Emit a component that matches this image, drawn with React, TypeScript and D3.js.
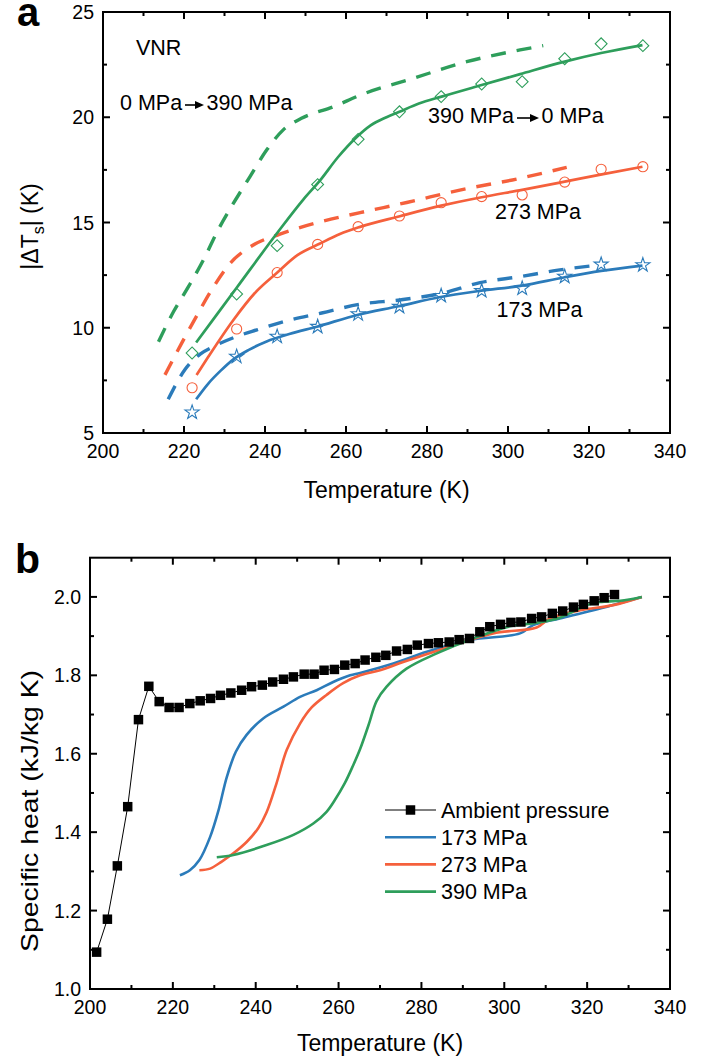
import React from 'react';
import * as d3 from 'd3';

const W = 721;
const H = 1059;
const FONT = '"Liberation Sans", Arial, Helvetica, sans-serif';

const BLUE = '#2b7bba';
const RED = '#f5603c';
const GREEN = '#2e9e5b';

// ---------------- Panel a data ----------------
const aMarkerT = [222, 233, 243, 253, 263, 273.2, 283.5, 293.5, 303.5, 314, 323, 333.3];
const aDiamonds390 = [8.8, 11.6, 13.9, 16.8, 18.95, 20.26, 20.98, 21.58, 21.69, 22.78, 23.49, 23.4];
const aCircles273 = [7.15, 9.94, 12.62, 13.96, 14.8, 15.31, 15.94, 16.23, 16.31, 16.92, 17.53, 17.65];
const aStars173 = [5.98, 8.63, 9.58, 10.05, 10.65, 11.0, 11.52, 11.75, 11.87, 12.43, 13.01, 12.98];

// fitted curves (390 MPa -> 0 MPa, solid)
const aGreenSolid: [number, number][] = [
  [223, 9.3], [233, 11.9], [243, 14.5], [249.5, 16.1], [253.6, 17.0], [258, 18.1],
  [262.6, 19.05], [266, 19.6], [270, 20.0], [273.2, 20.26], [278, 20.65], [283.6, 20.98],
  [293.5, 21.53], [303, 22.05], [314, 22.64], [323, 23.05], [333.2, 23.43],
];
const aRedSolid: [number, number][] = [
  [223.1, 7.76], [226, 8.62], [232.2, 10.37], [237.5, 11.65], [242.9, 12.6], [248, 13.45],
  [253.6, 14.0], [258.5, 14.45], [263.3, 14.78], [273.3, 15.3], [283.5, 15.8], [293.5, 16.2],
  [303.5, 16.55], [314, 16.94], [323.5, 17.3], [333.2, 17.65],
];
const aBlueSolid: [number, number][] = [
  [223, 6.6], [226, 7.35], [229, 7.95], [232.2, 8.5], [236, 8.95], [240.4, 9.35], [246, 9.7],
  [252.8, 10.05], [263, 10.62], [273, 11.02], [283, 11.45], [293, 11.75], [303.4, 12.0],
  [314, 12.4], [323, 12.7], [333.2, 12.95],
];
// dashed (0 MPa -> 390 MPa)
const aGreenDashed: [number, number][] = [
  [213.7, 9.34], [217.4, 10.76], [221.1, 11.95], [225.2, 13.37], [228, 14.49], [231.7, 15.75],
  [236.3, 17.18], [240.4, 18.44], [244.5, 19.4], [249, 19.95], [256.9, 20.5], [263.5, 21.05],
  [276.6, 21.85], [289.8, 22.64], [303, 23.2], [308.7, 23.4],
];
const aRedDashed: [number, number][] = [
  [215.3, 7.76], [219.4, 9.26], [223.5, 10.69], [226.8, 11.79], [231.4, 13.06], [237.1, 13.93],
  [243.7, 14.45], [253, 15.0], [263.5, 15.47], [275, 15.95], [288.1, 16.54], [303, 17.1], [314.5, 17.62],
];
const aBlueDashed: [number, number][] = [
  [216.1, 6.6], [220.2, 8.0], [224, 8.75], [227.2, 9.1], [232.8, 9.57], [238, 9.9], [246.2, 10.37],
  [254, 10.7], [263.5, 11.12], [273.3, 11.32], [283.5, 11.63], [293.1, 12.14], [303, 12.43],
  [312.8, 12.75], [322.7, 12.98],
];

const aXMajor = [200, 220, 240, 260, 280, 300, 320, 340];
const aXMinor = [210, 230, 250, 270, 290, 310, 330];
const aYMajor = [5, 10, 15, 20, 25];
const aYMinor = [7.5, 12.5, 17.5, 22.5];

// ---------------- Panel b data ----------------
const bAmbientT = [
  201.6, 204.2, 206.6, 209.1, 211.7, 214.2, 216.7, 219.1, 221.5, 224.1, 226.6, 229.1, 231.5,
  234.0, 236.6, 239.0, 241.6, 244.1, 246.7, 249.1, 251.7, 254.1, 256.5, 259.0, 261.5, 264.0,
  266.4, 269.0, 271.4, 274.0, 276.6, 279.0, 281.7, 284.1, 286.7, 289.1, 291.6, 294.1, 296.5,
  299.1, 301.6, 304.0, 306.6, 309.0, 311.6, 314.1, 316.7, 319.1, 321.7, 324.1, 326.6,
];
const bAmbientCp = [
  1.094, 1.178, 1.314, 1.465, 1.687, 1.772, 1.733, 1.718, 1.718, 1.728, 1.735, 1.741, 1.749,
  1.755, 1.762, 1.771, 1.775, 1.783, 1.79, 1.796, 1.803, 1.803, 1.813, 1.815, 1.826, 1.83,
  1.839, 1.846, 1.851, 1.862, 1.866, 1.877, 1.881, 1.883, 1.885, 1.891, 1.894, 1.911, 1.924,
  1.93, 1.935, 1.936, 1.945, 1.949, 1.958, 1.964, 1.974, 1.981, 1.99, 1.998, 2.006,
];
const b173: [number, number][] = [
  [221.7, 1.29], [224.1, 1.303], [226.4, 1.329], [229, 1.388], [231, 1.455], [233, 1.54],
  [235.2, 1.605], [237.8, 1.648], [241.8, 1.69], [246.7, 1.72], [250.7, 1.745], [254.7, 1.762],
  [258.7, 1.783], [262.8, 1.8], [265.2, 1.806], [273.2, 1.83], [281.3, 1.86], [291.7, 1.89],
  [303.8, 1.907], [307, 1.928], [313.4, 1.945], [321.5, 1.966], [333.2, 2.0],
];
const b273: [number, number][] = [
  [226.4, 1.303], [229, 1.307], [231.8, 1.325], [234.6, 1.346], [237.8, 1.375], [240.6, 1.41],
  [242.6, 1.45], [245, 1.524], [247.5, 1.61], [250.7, 1.677], [253.5, 1.718], [257.1, 1.75],
  [261.1, 1.78], [265.2, 1.8], [270, 1.813], [275.6, 1.834], [285.3, 1.868], [297.3, 1.907],
  [307.8, 1.922], [311, 1.945], [318.3, 1.966], [326.3, 1.979], [333.2, 2.0],
];
const b390: [number, number][] = [
  [230.6, 1.336], [234.6, 1.342], [242.6, 1.367], [249.1, 1.393], [253.9, 1.422], [257.1, 1.452],
  [259.1, 1.482], [261.5, 1.525], [263.5, 1.57], [265.2, 1.612], [267.2, 1.672], [269.2, 1.735],
  [271.6, 1.771], [276.4, 1.817], [283.7, 1.856], [292.5, 1.894], [301.4, 1.925], [307.8, 1.934],
  [313.4, 1.947], [319.9, 1.979], [323.1, 1.987], [328, 1.99], [333.2, 2.0],
];

const bXMajor = [200, 220, 240, 260, 280, 300, 320, 340];
const bXMinor = [210, 230, 250, 270, 290, 310, 330];
const bYMajor = [1.0, 1.2, 1.4, 1.6, 1.8, 2.0];
const bYMinor = [1.1, 1.3, 1.5, 1.7, 1.9];

const bLegend = ['Ambient pressure', '173 MPa', '273 MPa', '390 MPa'];
const bLegendColors = ['#000', BLUE, RED, GREEN];

// ---------------- helpers ----------------
type Scale = d3.ScaleLinear<number, number>;

function Frame(props: {
  x: Scale; y: Scale; xMajor: number[]; xMinor: number[]; yMajor: number[]; yMinor: number[];
  yFmt: (v: number) => string;
}) {
  const { x, y, xMajor, xMinor, yMajor, yMinor, yFmt } = props;
  const [x0, x1] = x.range();
  const [y0, y1] = y.range(); // y0 bottom, y1 top
  const MAJ = 7;
  const MIN = 4;
  const sw = 2;
  return (
    <g>
      <rect x={x0} y={y1} width={x1 - x0} height={y0 - y1} fill="none" stroke="#000" strokeWidth={sw} />
      {xMajor.map((v) => (
        <g key={'xM' + v}>
          <line x1={x(v)} x2={x(v)} y1={y0} y2={y0 - MAJ} stroke="#000" strokeWidth={sw} />
          <line x1={x(v)} x2={x(v)} y1={y1} y2={y1 + MAJ} stroke="#000" strokeWidth={sw} />
          <text x={x(v)} y={y0 + 25} textAnchor="middle" fontSize={19.5} fontFamily={FONT}>{v}</text>
        </g>
      ))}
      {xMinor.map((v) => (
        <g key={'xm' + v}>
          <line x1={x(v)} x2={x(v)} y1={y0} y2={y0 - MIN} stroke="#000" strokeWidth={sw} />
          <line x1={x(v)} x2={x(v)} y1={y1} y2={y1 + MIN} stroke="#000" strokeWidth={sw} />
        </g>
      ))}
      {yMajor.map((v) => (
        <g key={'yM' + v}>
          <line x1={x0} x2={x0 + MAJ} y1={y(v)} y2={y(v)} stroke="#000" strokeWidth={sw} />
          <line x1={x1} x2={x1 - MAJ} y1={y(v)} y2={y(v)} stroke="#000" strokeWidth={sw} />
          <text x={x0 - 9} y={y(v) + 7} textAnchor="end" fontSize={19.5} fontFamily={FONT}>{yFmt(v)}</text>
        </g>
      ))}
      {yMinor.map((v) => (
        <g key={'ym' + v}>
          <line x1={x0} x2={x0 + MIN} y1={y(v)} y2={y(v)} stroke="#000" strokeWidth={sw} />
          <line x1={x1} x2={x1 - MIN} y1={y(v)} y2={y(v)} stroke="#000" strokeWidth={sw} />
        </g>
      ))}
    </g>
  );
}

function Arrow({ x1, x2, y }: { x1: number; x2: number; y: number }) {
  const head = 9;
  return (
    <g>
      <line x1={x1} x2={x2 - head + 1} y1={y} y2={y} stroke="#000" strokeWidth={1.6} />
      <path d={`M${x2 - head},${y - 4}L${x2},${y}L${x2 - head},${y + 4}Z`} fill="#000" />
    </g>
  );
}

export default function App() {
  // Panel a scales
  const ax = d3.scaleLinear().domain([200, 340]).range([103, 670]);
  const ay = d3.scaleLinear().domain([5, 25]).range([433, 12]);
  const aLine = d3.line<[number, number]>().x((d) => ax(d[0])).y((d) => ay(d[1])).curve(d3.curveMonotoneX);

  // Panel b scales
  const bx = d3.scaleLinear().domain([200, 340]).range([90, 670]);
  const by = d3.scaleLinear().domain([1.0, 2.1]).range([989, 557.7]);
  const bLine = d3.line<[number, number]>().x((d) => bx(d[0])).y((d) => by(d[1])).curve(d3.curveLinear);
  const bLineSmooth = d3.line<[number, number]>().x((d) => bx(d[0])).y((d) => by(d[1]))
    .curve(d3.curveCatmullRom.alpha(0.5));

  const diamond = d3.symbol(d3.symbolSquare, 70)()!;
  const circle = d3.symbol(d3.symbolCircle, 80)()!;
  const star = d3.symbol(d3.symbolStar, 62)()!;
  const square = d3.symbol(d3.symbolSquare, 90)()!;

  const ambient: [number, number][] = bAmbientT.map((t, i) => [t, bAmbientCp[i]]);

  const solidW = 2.7;
  const dashW = 3.4;
  const dash = '15 11';

  return (
    <svg width={W} height={H} style={{ position: 'absolute', left: 0, top: 0, background: '#fff' }}
      fontFamily={FONT}>
      <rect x={0} y={0} width={W} height={H} fill="#fff" />

      {/* ===== Panel a ===== */}
      <text x={17} y={26} fontSize={40} fontWeight="bold">a</text>
      <Frame x={ax} y={ay} xMajor={aXMajor} xMinor={aXMinor} yMajor={aYMajor} yMinor={aYMinor}
        yFmt={(v) => String(v)} />

      {/* dashed */}
      <path d={aLine(aGreenDashed)!} fill="none" stroke={GREEN} strokeWidth={dashW} strokeDasharray={dash} />
      <path d={aLine(aRedDashed)!} fill="none" stroke={RED} strokeWidth={dashW} strokeDasharray={dash} />
      <path d={aLine(aBlueDashed)!} fill="none" stroke={BLUE} strokeWidth={dashW} strokeDasharray={dash} />
      {/* solid */}
      <path d={aLine(aGreenSolid)!} fill="none" stroke={GREEN} strokeWidth={solidW} />
      <path d={aLine(aRedSolid)!} fill="none" stroke={RED} strokeWidth={solidW} />
      <path d={aLine(aBlueSolid)!} fill="none" stroke={BLUE} strokeWidth={solidW} />

      {/* markers */}
      {aMarkerT.map((t, i) => (
        <path key={'d' + i} d={diamond} transform={`translate(${ax(t)},${ay(aDiamonds390[i])}) rotate(45)`}
          fill="none" stroke={GREEN} strokeWidth={1.1} />
      ))}
      {aMarkerT.map((t, i) => (
        <path key={'c' + i} d={circle} transform={`translate(${ax(t)},${ay(aCircles273[i])})`}
          fill="none" stroke={RED} strokeWidth={1.1} />
      ))}
      {aMarkerT.map((t, i) => (
        <path key={'s' + i} d={star} transform={`translate(${ax(t)},${ay(aStars173[i])})`}
          fill="none" stroke={BLUE} strokeWidth={1.1} />
      ))}

      {/* annotations */}
      <text x={136} y={55} fontSize={21.5}>VNR</text>
      <text x={120} y={110} fontSize={21.5}>0 MPa</text>
      <Arrow x1={185} x2={204} y={105} />
      <text x={206.5} y={110} fontSize={21.5}>390 MPa</text>
      <text x={428} y={123} fontSize={21.5}>390 MPa</text>
      <Arrow x1={517} x2={539} y={118} />
      <text x={541.5} y={123} fontSize={21.5}>0 MPa</text>
      <text x={495} y={219} fontSize={21.5}>273 MPa</text>
      <text x={496.5} y={317} fontSize={21.5}>173 MPa</text>

      {/* axis titles */}
      <text x={386.5} y={498} textAnchor="middle" fontSize={23}>Temperature (K)</text>
      <text transform="translate(38,226.5) rotate(-90)" textAnchor="middle" fontSize={23}>
        |ΔT<tspan fontSize={16} dy={6}>s</tspan><tspan dy={-6}>| (K)</tspan>
      </text>

      {/* ===== Panel b ===== */}
      <text x={15} y={573} fontSize={41} fontWeight="bold">b</text>
      <Frame x={bx} y={by} xMajor={bXMajor} xMinor={bXMinor} yMajor={bYMajor} yMinor={bYMinor}
        yFmt={d3.format('.1f')} />

      <path d={bLineSmooth(b173)!} fill="none" stroke={BLUE} strokeWidth={2.6} />
      <path d={bLineSmooth(b273)!} fill="none" stroke={RED} strokeWidth={2.6} />
      <path d={bLineSmooth(b390)!} fill="none" stroke={GREEN} strokeWidth={2.6} />

      <path d={bLine(ambient)!} fill="none" stroke="#000" strokeWidth={1} />
      {ambient.map((d, i) => (
        <path key={'a' + i} d={square} transform={`translate(${bx(d[0])},${by(d[1])})`} fill="#000" />
      ))}

      {/* legend */}
      {bLegend.map((label, i) => {
        const yy = 810 + i * 27.2;
        return (
          <g key={label}>
            {i === 0 ? (
              <g>
                <line x1={385} x2={436} y1={yy} y2={yy} stroke="#000" strokeWidth={1} />
                <path d={square} transform={`translate(${410.5},${yy})`} fill="#000" />
              </g>
            ) : (
              <line x1={385} x2={436} y1={yy} y2={yy} stroke={bLegendColors[i]} strokeWidth={2.6} />
            )}
            <text x={441} y={yy + 7.7} fontSize={21.5}>{label}</text>
          </g>
        );
      })}

      <text x={380} y={1051} textAnchor="middle" fontSize={23}>Temperature (K)</text>
      <text transform="translate(38,811) rotate(-90)" textAnchor="middle" fontSize={24}
        textLength={282} lengthAdjust="spacingAndGlyphs">Specific heat (kJ/kg K)</text>
    </svg>
  );
}
